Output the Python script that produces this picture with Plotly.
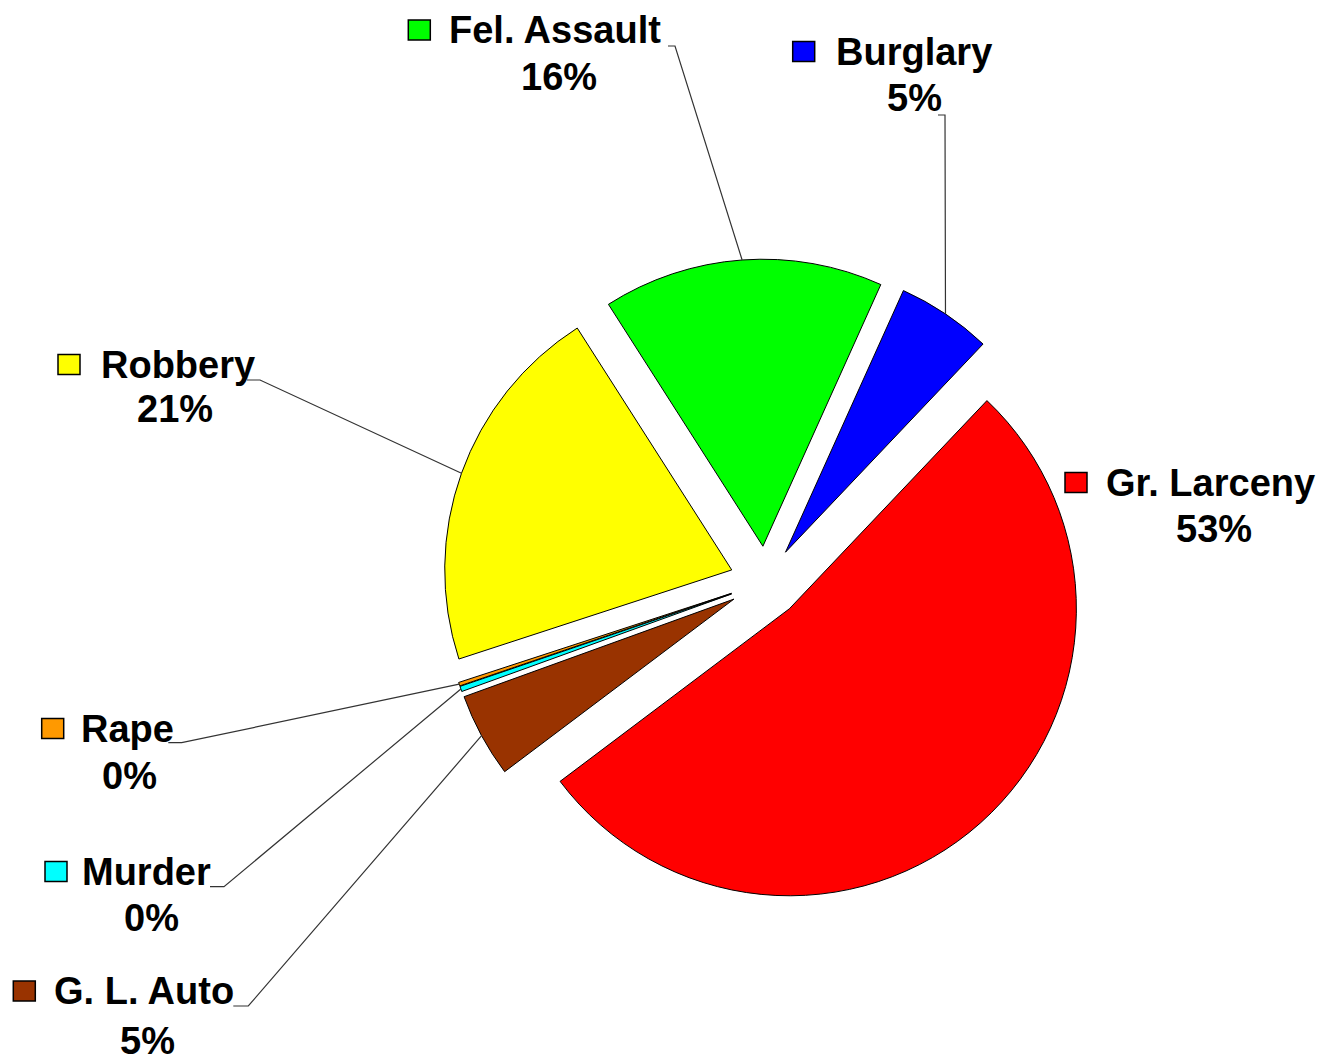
import math
import plotly.graph_objects as go

# ---- data ----
labels = ["Gr. Larceny", "G. L. Auto", "Murder", "Rape", "Robbery", "Fel. Assault", "Burglary"]
values = [52.7, 4.75, 0.3, 0.2, 21.0, 15.8, 5.35]
colors = ["#FF0000", "#993300", "#00FFFF", "#FF9900", "#FFFF00", "#00FF00", "#0000FF"]

# ---- layout / geometry (pixels, in page coordinates) ----
W, H = 1329, 1055
OFF = 8  # default page body margin around the plot
PIE_CX, PIE_CY, PIE_R = 765.5, 582.0, 287.0
PULL = 0.125
ROTATION = 43.5
FONT = "Liberation Sans, Arial, sans-serif"
FS = 38

# label placement per slice: square-left x, cap-centre y, text-left x,
# percent centre x, percent centre y, leader start x, leader knee x, leader y
label_pos = {
    "Gr. Larceny": (1065, 482.5, 1106.7, 1214, 529, None, None, None),
    "G. L. Auto": (13.3, 991, 55, 147.5, 1040.5, 233.3, 248.3, 1006),
    "Murder": (45, 871.5, 83.3, 151.7, 918, 210, 224, 886.7),
    "Rape": (41.7, 728.5, 81.7, 129.2, 776.3, 168.3, 181.7, 742.7),
    "Robbery": (58, 364.5, 101.7, 175, 409, 247, 260, 380),
    "Fel. Assault": (408.3, 30, 450, 558.5, 77.5, 668, 675, 46),
    "Burglary": (792.7, 51.5, 836.7, 914.5, 97.8, 938, 945, 115),
}


def px(x):
    return (x - OFF) / W


def py(y):
    return 1 - (y - OFF) / H


Rtot = PIE_R * (1 + PULL)
domain_x = [px(PIE_CX - Rtot), px(PIE_CX + Rtot)]
domain_y = [py(PIE_CY + Rtot), py(PIE_CY - Rtot)]

fig = go.Figure(
    go.Pie(
        labels=labels,
        values=values,
        marker=dict(colors=colors, line=dict(color="#000000", width=1)),
        sort=False,
        direction="clockwise",
        rotation=ROTATION,
        pull=[PULL] * len(values),
        textinfo="none",
        hoverinfo="label+percent",
        domain=dict(x=domain_x, y=domain_y),
        showlegend=False,
    )
)

total = sum(values)
shapes = []
annotations = []
angle = ROTATION
for lab, val, col in zip(labels, values, colors):
    span = 360.0 * val / total
    mid = math.radians(angle + span / 2)
    angle += span
    sx, ny, tx, pcx, pcy, lx0, lx1, ly = label_pos[lab]
    # legend key square
    shapes.append(dict(type="rect", xref="paper", yref="paper",
                       x0=px(sx), x1=px(sx + 22), y0=py(ny - 10), y1=py(ny + 10),
                       fillcolor=col, line=dict(color="#000000", width=1.5), layer="above"))
    annotations.append(dict(x=px(tx - 3), y=py(ny), xref="paper", yref="paper",
                            text="<b>%s</b>" % lab, showarrow=False,
                            xanchor="left", yanchor="middle",
                            font=dict(family=FONT, size=FS, color="#000000")))
    pct = round(100 * val / total)
    annotations.append(dict(x=px(pcx), y=py(pcy), xref="paper", yref="paper",
                            text="<b>%d%%</b>" % pct, showarrow=False,
                            xanchor="center", yanchor="middle",
                            font=dict(family=FONT, size=FS, color="#000000")))
    if lx0 is not None:
        ax = PIE_CX + Rtot * math.sin(mid)
        ay = PIE_CY - Rtot * math.cos(mid)
        path = "M %f,%f L %f,%f L %f,%f" % (px(lx0), py(ly), px(lx1), py(ly), px(ax), py(ay))
        shapes.append(dict(type="path", xref="paper", yref="paper", path=path,
                           line=dict(color="#333333", width=1.2)))

fig.update_layout(
    width=W, height=H,
    margin=dict(l=0, r=0, t=0, b=0),
    paper_bgcolor="#FFFFFF", plot_bgcolor="#FFFFFF",
    showlegend=False,
    shapes=shapes,
    annotations=annotations,
)

fig.write_html("out.html")
